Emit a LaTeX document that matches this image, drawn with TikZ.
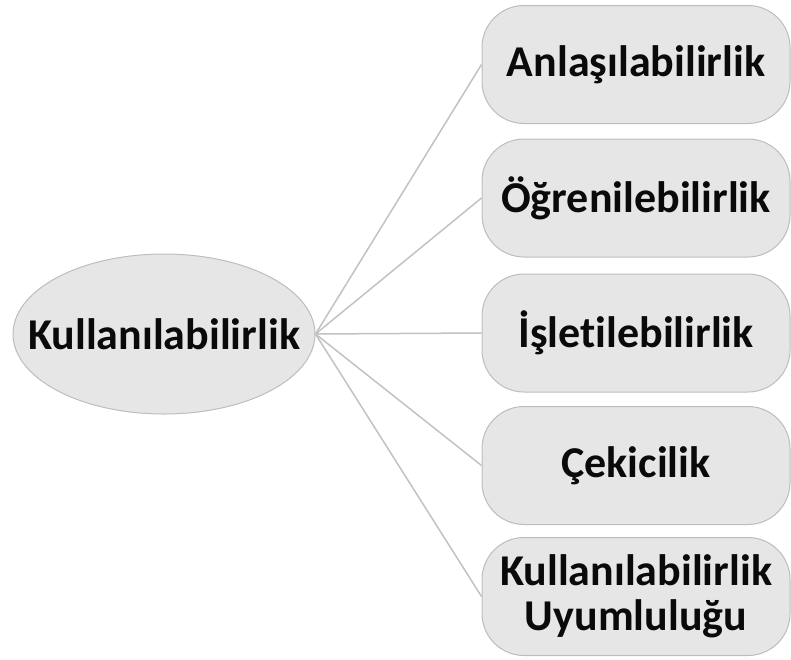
\documentclass[tikz,border=0pt]{standalone}
\usepackage{fontspec}
\setmainfont{Carlito}[Ligatures={NoCommon}]
\usetikzlibrary{shapes.geometric}
\definecolor{shapefill}{HTML}{E6E6E6}
\definecolor{shapeline}{HTML}{BDBDBD}
\definecolor{linkline}{HTML}{C2C2C2}
\definecolor{labeltext}{HTML}{0A0A0A}
\tikzset{
  label font/.style={font=\fontsize{44}{45}\selectfont\bfseries, text=labeltext},
  rootnode/.style={ellipse, draw=shapeline, fill=shapefill, line width=1pt,
    minimum width=302pt, minimum height=160pt, inner sep=0pt},
  itembox/.style={rectangle, rounded corners=42pt, draw=shapeline, fill=shapefill,
    line width=1pt, minimum width=308pt, minimum height=118pt, inner sep=0pt,
    align=center, label font},
  link/.style={draw=linkline, line width=1.5pt}
}
\begin{document}
\begin{tikzpicture}[x=1pt, y=-1pt]
  \useasboundingbox (0,0) rectangle (791,659);
  % central ellipse, its label set on top at the same centre
  \node[rootnode] (root) at (164,334) {};
  \node[label font] (roottext) at (root.center) {Kullanılabilirlik};
  % the five sub-characteristics
  \node[itembox] (b1) at (636,64.5)  {Anlaşılabilirlik};
  \node[itembox] (b2) at (636,198)   {Öğrenilebilirlik};
  \node[itembox] (b3) at (636,333)   {İşletilebilirlik};
  \node[itembox] (b4) at (636,465.5) {Çekicilik};
  \node[itembox] (b5) at (636,596.5) {Kullanılabilirlik\\Uyumluluğu};
  \foreach \b in {b1,b2,b3,b4,b5}
    \draw[link] (root.east) -- (\b.west);
\end{tikzpicture}
\end{document}
